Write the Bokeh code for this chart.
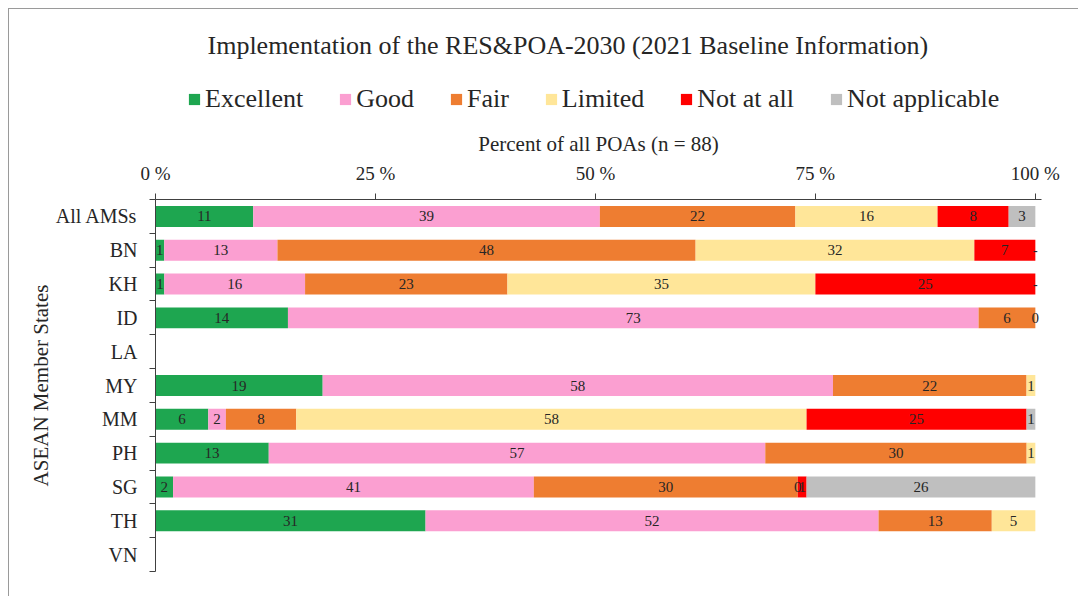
from bokeh.plotting import figure
from bokeh.layouts import column
from bokeh.models import (Range1d, FixedTicker, ColumnDataSource, Legend, LegendItem,
                          PrintfTickFormatter)
from bokeh.core.properties import value
from bokeh.embed import file_html
from bokeh.resources import INLINE

title_text = "Implementation of the RES&POA-2030 (2021 Baseline Information)"
x_label = "Percent of all POAs (n = 88)"
y_label = "ASEAN Member States"
states = ["All AMSs", "BN", "KH", "ID", "LA", "MY", "MM", "PH", "SG", "TH", "VN"]
series = ["Excellent", "Good", "Fair", "Limited", "Not at all", "Not applicable"]
colors = ["#1ea650", "#fb9fd1", "#ee7d31", "#ffe699", "#ff0000", "#bfbfbf"]

excellent = [11, 1, 1, 14, None, 19, 6, 13, 2, 31, None]
good = [39, 13, 16, 73, None, 58, 2, 57, 41, 52, None]
fair = [22, 48, 23, 6, None, 22, 8, 30, 30, 13, None]
limited = [16, 32, 35, 0, None, 1, 58, 1, 0, 5, None]
not_at_all = [8, 7, 25, None, None, None, 25, None, 1, None, None]
not_applicable = [3, 0, 0, None, None, None, 1, None, 26, None, None]
x_ticks = [0, 25, 50, 75, 100]

data = [excellent, good, fair, limited, not_at_all, not_applicable]
SERIF = "Liberation Serif"
TXT = "#262626"
AX = "#404040"
BORDER = "1px solid #9a9a9a"

# ---------------- header: title + legend ----------------
hdr = figure(width=1070, height=113, x_range=Range1d(0, 1), y_range=Range1d(0, 1),
             x_axis_location=None, y_axis_location=None, output_backend="svg",
             toolbar_location=None, min_border_left=0, min_border_right=0,
             min_border_bottom=0, min_border_top=55, title=title_text)
hdr.styles = {"margin-left": "8px", "margin-top": "8px",
              "border-left": BORDER, "border-top": BORDER}
hdr.outline_line_color = None
hdr.xgrid.visible = False
hdr.ygrid.visible = False
hdr.title.align = "left"
hdr.title.offset = 52
hdr.title.standoff = 9
hdr.title.text_font = SERIF
hdr.title.text_font_size = "26px"
hdr.title.text_font_style = "normal"
hdr.title.text_color = TXT

items = []
for name, col in zip(series, colors):
    # swatch-only renderer, kept outside the visible range
    r = hdr.hbar(y=[-5], left=[0], right=[0.1], height=0.5, fill_color=col, line_color=None)
    items.append(LegendItem(label=name, renderers=[r]))
legend = Legend(items=items, orientation="horizontal", location=(32, 8),
                label_text_font=SERIF, label_text_font_size="26px", label_text_color=TXT,
                glyph_width=14, glyph_height=14, label_standoff=4, spacing=35,
                border_line_color=None, background_fill_alpha=0, padding=0, margin=0)
hdr.add_layout(legend, "center")

# ---------------- main chart ----------------
p = figure(width=1070, height=475, x_range=Range1d(0, 100.7), y_range=Range1d(11, 0),
           x_axis_location="above", output_backend="svg", toolbar_location=None,
           min_border_left=146, min_border_right=38, min_border_bottom=25, min_border_top=78)
p.styles = {"margin-left": "8px", "border-left": BORDER}
p.outline_line_color = None
p.xgrid.visible = False
p.ygrid.visible = False

totals = []
for i in range(len(states)):
    vals = [s[i] for s in data if s[i] is not None]
    totals.append(sum(vals))

cum = [0.0] * len(states)
lab_x, lab_y, lab_t = [], [], []
for name, col, vals in zip(series, colors, data):
    ys, lefts, rights = [], [], []
    for i, v in enumerate(vals):
        if v is None or totals[i] == 0:
            continue
        share = v / totals[i] * 100.0
        ys.append(i + 0.5)
        lefts.append(cum[i])
        rights.append(cum[i] + share)
        lab_x.append(cum[i] + share / 2)
        lab_y.append(i + 0.5)
        lab_t.append("-" if (v == 0 and name == "Not applicable") else str(v))
        cum[i] += share
    src = ColumnDataSource(dict(y=ys, left=lefts, right=rights))
    p.hbar(y="y", left="left", right="right", height=0.62, source=src,
           fill_color=col, line_color=None)

lsrc = ColumnDataSource(dict(x=lab_x, y=lab_y, t=lab_t))
p.text(x="x", y="y", text="t", source=lsrc, text_font=value(SERIF), text_font_size="15px",
       text_color=TXT, text_align="center", text_baseline="middle")

xa = p.xaxis[0]
xa.ticker = FixedTicker(ticks=x_ticks)
xa.formatter = PrintfTickFormatter(format="%d %%")
xa.axis_label = x_label
xa.axis_label_text_font = SERIF
xa.axis_label_text_font_size = "21px"
xa.axis_label_text_font_style = "normal"
xa.axis_label_text_color = TXT
xa.major_label_text_font = SERIF
xa.major_label_text_font_size = "19px"
xa.major_label_text_color = TXT
xa.major_tick_out = 6
xa.major_tick_in = 0
xa.minor_tick_line_color = None
xa.axis_line_color = AX
xa.major_tick_line_color = AX
xa.major_label_standoff = 10
xa.axis_label_standoff = 4

ya = p.yaxis[0]
ya.ticker = FixedTicker(ticks=[i + 0.5 for i in range(len(states))],
                        minor_ticks=list(range(len(states) + 1)))
ya.major_label_overrides = {i + 0.5: s for i, s in enumerate(states)}
ya.axis_label = y_label
ya.axis_label_text_font = SERIF
ya.axis_label_text_font_size = "21px"
ya.axis_label_text_font_style = "normal"
ya.axis_label_text_color = TXT
ya.major_label_text_font = SERIF
ya.major_label_text_font_size = "20px"
ya.major_label_text_color = TXT
ya.major_tick_out = 0
ya.major_tick_in = 0
ya.minor_tick_out = 6
ya.minor_tick_in = 0
ya.minor_tick_line_color = AX
ya.axis_line_color = AX
ya.major_label_standoff = 12
ya.axis_label_standoff = 0

layout = column(hdr, p, spacing=0)
open("out.html", "w").write(file_html(layout, INLINE))
